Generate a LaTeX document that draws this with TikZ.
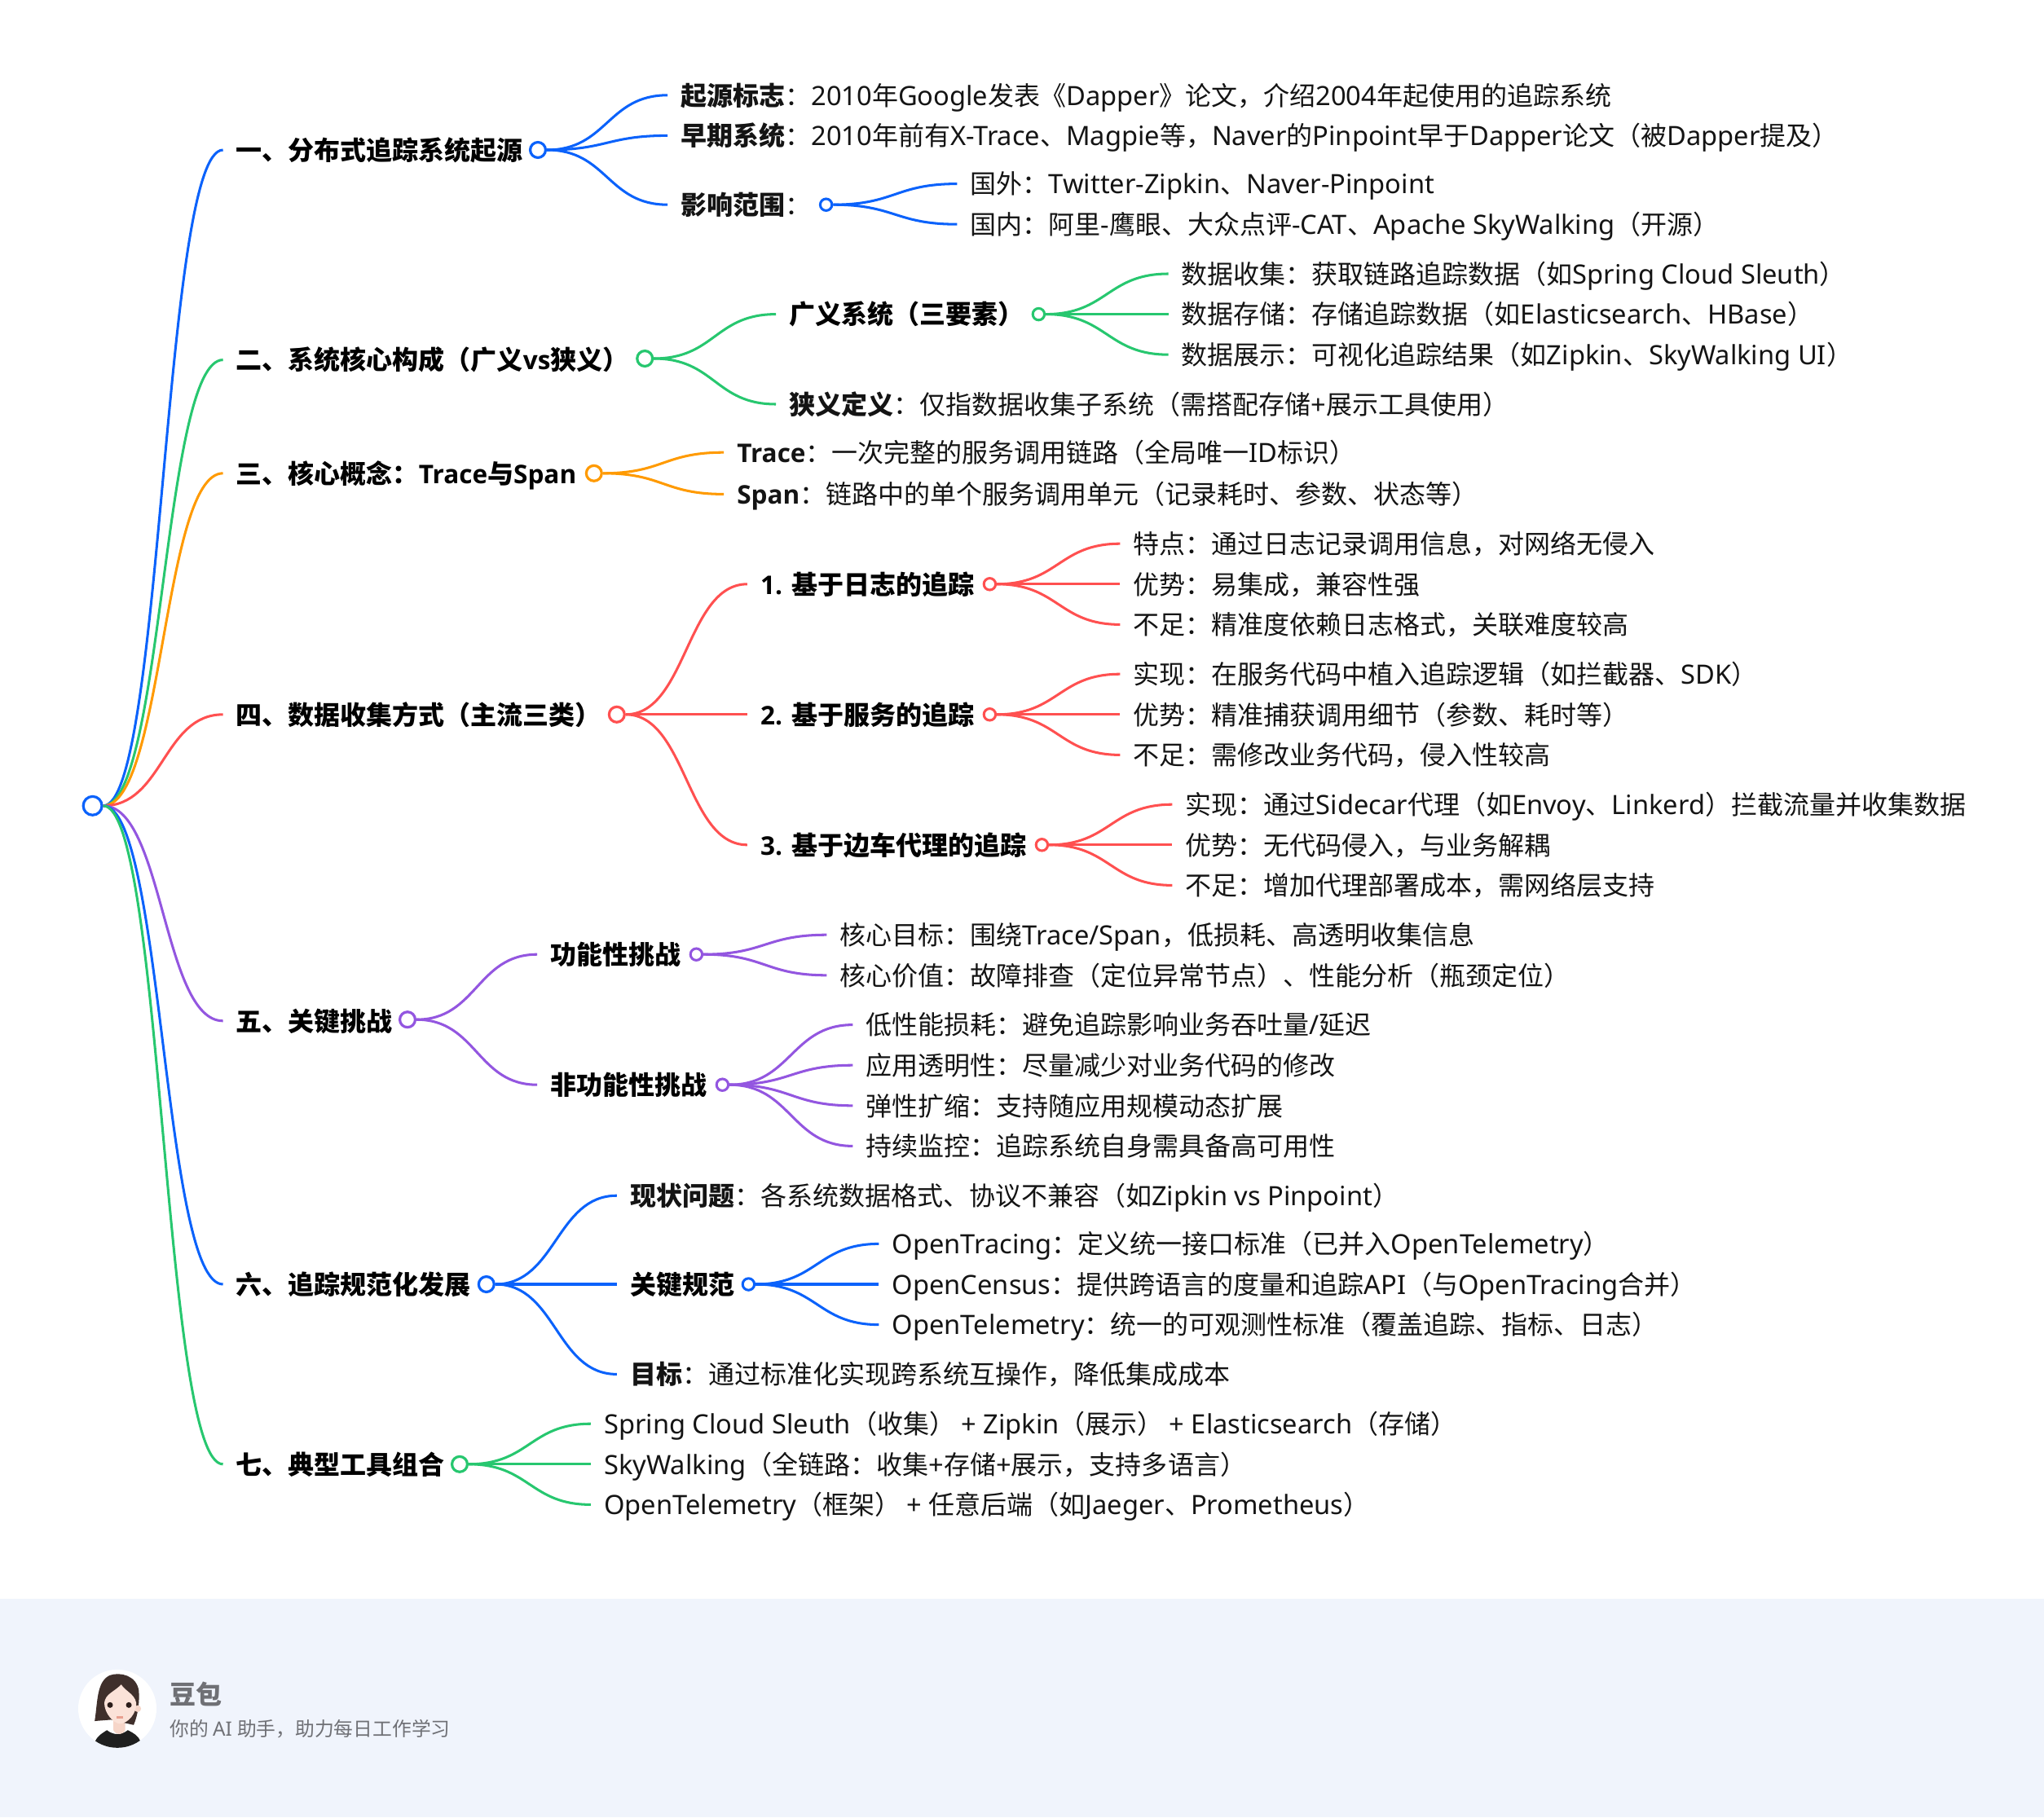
\documentclass[tikz,border=0pt]{standalone}
\usepackage{fontspec}
\usetikzlibrary{calc}
\setmainfont{Noto Sans}[Scale=1.02,BoldFont={Open Sans Bold},BoldFeatures={Scale=0.985}]
\newfontfamily\cjkfam{Noto Sans CJK SC}
\newfontfamily\latfam{Noto Sans}[Scale=1.02,BoldFont={Open Sans Bold},BoldFeatures={Scale=0.985}]
\XeTeXinterchartokenstate=1
\newXeTeXintercharclass\cjkclass
\count255="2E80
\loop\XeTeXcharclass\count255=\cjkclass\ifnum\count255<"9FFF\advance\count255 by 1\repeat
\count255="FF00
\loop\XeTeXcharclass\count255=\cjkclass\ifnum\count255<"FFEF\advance\count255 by 1\repeat
\XeTeXinterchartoks 0 \cjkclass={\cjkfam}
\XeTeXinterchartoks 4095 \cjkclass={\cjkfam}
\XeTeXinterchartoks \cjkclass 0={\latfam}
\XeTeXinterchartoks 4095 0={\latfam}
\newcommand\B[1]{{\bfseries#1}\cjkfam}
\definecolor{cblue}{HTML}{0B62FB}
\definecolor{cgreen}{HTML}{27C76F}
\definecolor{corange}{HTML}{FF9A00}
\definecolor{cred}{HTML}{FF5050}
\definecolor{cpurple}{HTML}{9356E0}
\definecolor{cband}{HTML}{F0F4FC}
\definecolor{cgrey}{HTML}{6F7075}
\definecolor{cskin}{HTML}{F6D5C8}
\definecolor{cface}{HTML}{FBE2D8}
\definecolor{chair}{HTML}{3F2F2B}
\definecolor{ceye}{HTML}{2B1D1A}
\definecolor{clipc}{HTML}{E9A090}
\tikzset{
  x=1pt,y=-1pt,
  txt/.style={anchor=west,inner xsep=10pt,inner ysep=0pt,text height=19pt,text depth=3.6pt,font=\fontsize{20}{24}\selectfont,text=black!92},
  bd/.style={txt,font=\fontsize{20}{24}\selectfont\bfseries,text=black},
  dota/.style={circle,draw=#1,fill=white,line width=2pt,inner sep=0pt,minimum size=11.8pt},
  dotb/.style={circle,draw=#1,fill=white,line width=1.9pt,inner sep=0pt,minimum size=9pt},
  link/.style={line width=1.9pt,line cap=butt}
}
\newcommand\cn[3]{\draw[link,#1] let \p1=(#2.east),\p2=(#3.west) in (\p1) .. controls ({0.5*\x1+0.5*\x2},\y1) and ({0.5*\x1+0.5*\x2},\y2) .. (\p2);}
\begin{document}
\begin{tikzpicture}
\useasboundingbox (0,0) rectangle (1567.5,1393.75);
\fill[white] (0,0) rectangle (1567.5,1393.75);
\fill[cband] (0,1226.5) rectangle (1567.5,1393.75);
% root
\node[dota=cblue,minimum size=14.3pt] (root) at (71,618) {};
% 一
\node[bd] (a) at (171,115) {一、分布式追踪系统起源};
\node[dota=cblue] (ad) at (412.5,115) {};
\node[txt] (a1) at (512,73) {\B{起源标志}：2010年Google发表《Dapper》论文，介绍2004年起使用的追踪系统};
\node[txt] (a2) at (512,104) {\B{早期系统}：2010年前有X-Trace、Magpie等，Naver的Pinpoint早于Dapper论文（被Dapper提及）};
\node[txt] (a3) at (512,157) {\B{影响范围}：};
\node[dotb=cblue] (a3d) at (633.5,157) {};
\node[txt] (a31) at (734,141) {国外：Twitter-Zipkin、Naver-Pinpoint};
\node[txt] (a32) at (734,172) {国内：阿里-鹰眼、大众点评-CAT、Apache SkyWalking（开源）};
% 二
\node[bd] (b) at (171,276) {二、系统核心构成（广义vs狭义）};
\node[dota=cgreen] (bd) at (494.5,275) {};
\node[bd] (b1) at (595,241) {广义系统（三要素）};
\node[dotb=cgreen] (b1d) at (796.5,241) {};
\node[txt] (b11) at (896,210) {数据收集：获取链路追踪数据（如Spring Cloud Sleuth）};
\node[txt] (b12) at (896,241) {数据存储：存储追踪数据（如Elasticsearch、HBase）};
\node[txt] (b13) at (896,272) {数据展示：可视化追踪结果（如Zipkin、SkyWalking UI）};
\node[txt] (b2) at (595,310) {\B{狭义定义}：仅指数据收集子系统（需搭配存储+展示工具使用）};
% 三
\node[bd] (c) at (171,363) {三、核心概念：Trace与Span};
\node[dota=corange] (cd) at (455.5,363) {};
\node[txt] (c1) at (555,347) {\B{Trace}：一次完整的服务调用链路（全局唯一ID标识）};
\node[txt] (c2) at (555,379) {\B{Span}：链路中的单个服务调用单元（记录耗时、参数、状态等）};
% 四
\node[bd] (d) at (171,548) {四、数据收集方式（主流三类）};
\node[dota=cred] (dd) at (473,548) {};
\node[bd] (d1) at (573,448) {1. 基于日志的追踪};
\node[dotb=cred] (d1d) at (759,448) {};
\node[txt] (d11) at (859,417) {特点：通过日志记录调用信息，对网络无侵入};
\node[txt] (d12) at (859,448) {优势：易集成，兼容性强};
\node[txt] (d13) at (859,479) {不足：精准度依赖日志格式，关联难度较高};
\node[bd] (d2) at (573,548) {2. 基于服务的追踪};
\node[dotb=cred] (d2d) at (759,548) {};
\node[txt] (d21) at (859,517) {实现：在服务代码中植入追踪逻辑（如拦截器、SDK）};
\node[txt] (d22) at (859,548) {优势：精准捕获调用细节（参数、耗时等）};
\node[txt] (d23) at (859,579) {不足：需修改业务代码，侵入性较高};
\node[bd] (d3) at (573,648) {3. 基于边车代理的追踪};
\node[dotb=cred] (d3d) at (799,648) {};
\node[txt] (d31) at (899,617) {实现：通过Sidecar代理（如Envoy、Linkerd）拦截流量并收集数据};
\node[txt] (d32) at (899,648) {优势：无代码侵入，与业务解耦};
\node[txt] (d33) at (899,679) {不足：增加代理部署成本，需网络层支持};
% 五
\node[bd] (e) at (171,783) {五、关键挑战};
\node[dota=cpurple] (ed) at (312.5,782) {};
\node[bd] (e1) at (412,732) {功能性挑战};
\node[dotb=cpurple] (e1d) at (534,732) {};
\node[txt] (e11) at (634,717) {核心目标：围绕Trace/Span，低损耗、高透明收集信息};
\node[txt] (e12) at (634,748) {核心价值：故障排查（定位异常节点）、性能分析（瓶颈定位）};
\node[bd] (e2) at (412,832) {非功能性挑战};
\node[dotb=cpurple] (e2d) at (554,832) {};
\node[txt] (e21) at (654,786) {低性能损耗：避免追踪影响业务吞吐量/延迟};
\node[txt] (e22) at (654,817) {应用透明性：尽量减少对业务代码的修改};
\node[txt] (e23) at (654,848) {弹性扩缩：支持随应用规模动态扩展};
\node[txt] (e24) at (654,879) {持续监控：追踪系统自身需具备高可用性};
% 六
\node[bd] (f) at (171,985) {六、追踪规范化发展};
\node[dota=cblue] (fd) at (373,985) {};
\node[txt] (f1) at (473,917) {\B{现状问题}：各系统数据格式、协议不兼容（如Zipkin vs Pinpoint）};
\node[bd] (f2) at (473,985) {关键规范};
\node[dotb=cblue] (f2d) at (574,985) {};
\node[txt] (f21) at (674,954) {OpenTracing：定义统一接口标准（已并入OpenTelemetry）};
\node[txt] (f22) at (674,985) {OpenCensus：提供跨语言的度量和追踪API（与OpenTracing合并）};
\node[txt] (f23) at (674,1016) {OpenTelemetry：统一的可观测性标准（覆盖追踪、指标、日志）};
\node[txt] (f3) at (473,1054) {\B{目标}：通过标准化实现跨系统互操作，降低集成成本};
% 七
\node[bd] (g) at (171,1123) {七、典型工具组合};
\node[dota=cgreen] (gd) at (352.5,1123) {};
\node[txt] (g1) at (453,1092) {Spring Cloud Sleuth（收集）~+ Zipkin（展示）~+ Elasticsearch（存储）};
\node[txt] (g2) at (453,1123) {SkyWalking（全链路：收集+存储+展示，支持多语言）};
\node[txt] (g3) at (453,1154) {OpenTelemetry（框架）~+ 任意后端（如Jaeger、Prometheus）};
% connectors
\cn{cblue}{root}{a}\cn{cgreen}{root}{b}\cn{corange}{root}{c}\cn{cred}{root}{d}\cn{cpurple}{root}{e}\cn{cblue}{root}{f}\cn{cgreen}{root}{g}
\cn{cblue}{ad}{a1}\cn{cblue}{ad}{a2}\cn{cblue}{ad}{a3}\cn{cblue}{a3d}{a31}\cn{cblue}{a3d}{a32}
\cn{cgreen}{bd}{b1}\cn{cgreen}{bd}{b2}\cn{cgreen}{b1d}{b11}\cn{cgreen}{b1d}{b12}\cn{cgreen}{b1d}{b13}
\cn{corange}{cd}{c1}\cn{corange}{cd}{c2}
\cn{cred}{dd}{d1}\cn{cred}{dd}{d2}\cn{cred}{dd}{d3}
\cn{cred}{d1d}{d11}\cn{cred}{d1d}{d12}\cn{cred}{d1d}{d13}
\cn{cred}{d2d}{d21}\cn{cred}{d2d}{d22}\cn{cred}{d2d}{d23}
\cn{cred}{d3d}{d31}\cn{cred}{d3d}{d32}\cn{cred}{d3d}{d33}
\cn{cpurple}{ed}{e1}\cn{cpurple}{ed}{e2}\cn{cpurple}{e1d}{e11}\cn{cpurple}{e1d}{e12}
\cn{cpurple}{e2d}{e21}\cn{cpurple}{e2d}{e22}\cn{cpurple}{e2d}{e23}\cn{cpurple}{e2d}{e24}
\cn{cblue}{fd}{f1}\cn{cblue}{fd}{f2}\cn{cblue}{fd}{f3}
\cn{cblue}{f2d}{f21}\cn{cblue}{f2d}{f22}\cn{cblue}{f2d}{f23}
\cn{cgreen}{gd}{g1}\cn{cgreen}{gd}{g2}\cn{cgreen}{gd}{g3}
% footer avatar
\fill[white] (90,1310.5) circle (30);
\begin{scope}
\clip (90,1310.5) circle (30);
\fill[black!88] (73,1341) -- (73,1335.5) .. controls (75,1331) and (79,1329) .. (82,1327) .. controls (87,1331) and (93,1331) .. (98,1327) .. controls (102,1329) and (106,1331) .. (107.6,1335.5) -- (107.6,1341) -- cycle;
\fill[cskin] (87,1318) -- (96,1318) -- (96,1327) .. controls (94,1331) and (89,1331) .. (87,1327) -- cycle;
\end{scope}
\fill[chair] (72.6,1320) .. controls (75,1305) and (74,1290) .. (84,1285) .. controls (92,1282) and (105,1285) .. (106.5,1297) .. controls (107,1305) and (106,1315) .. (102.5,1323) -- (85,1319) -- cycle;
\fill[cskin] (105.6,1310.5) circle (2.6);
\fill[cface] (80,1306) .. controls (81,1299) and (87,1298) .. (93,1292) .. controls (96,1297) and (103,1299) .. (104.5,1306) .. controls (105,1314) and (98,1322) .. (92,1322) .. controls (87,1322) and (80,1314) .. (80,1306) -- cycle;
\fill[ceye] (84.4,1307.7) circle (2.2) (98.8,1307.7) circle (2.2);
\fill[clipc] (89.5,1316.3) rectangle (94.5,1317.8);
\node[anchor=west,inner sep=0pt,text=cgrey,font=\fontsize{20}{24}\selectfont\bfseries] (dou) at (130,1299.5) {豆包};
\node[anchor=west,inner sep=0pt,text=cgrey,font=\fontsize{14.85}{18}\selectfont] (sub) at (130,1326) {你的 AI 助手，助力每日工作学习};
\end{tikzpicture}
\end{document}
